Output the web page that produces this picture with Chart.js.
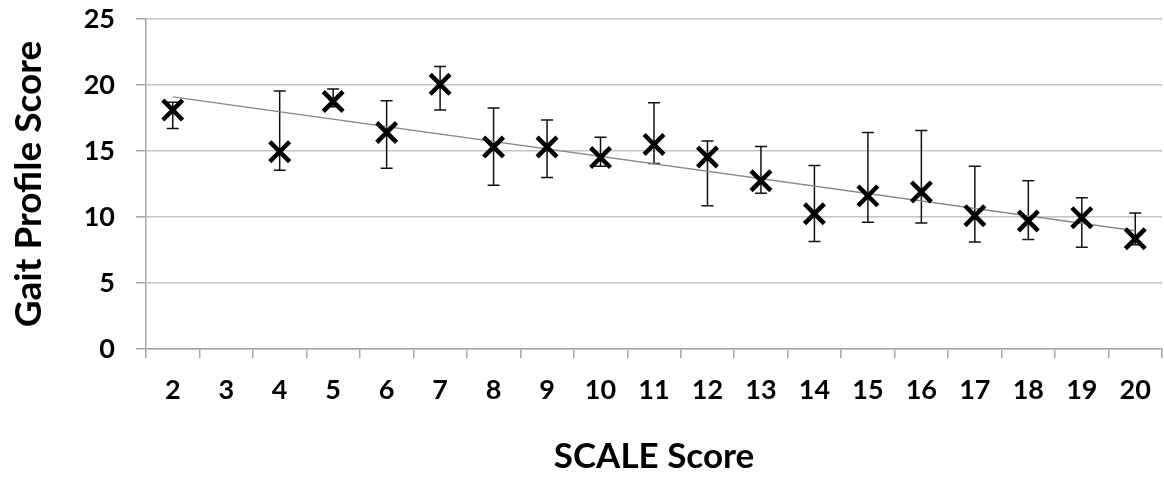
<!DOCTYPE html>
<html>
<head>
<meta charset="utf-8">
<script src="https://cdn.jsdelivr.net/npm/chart.js@4.4.1/dist/chart.umd.min.js"></script>
<style>
  body { margin: 0; background: #fff; }
  #wrap { width: 1164px; height: 483px; }
</style>
</head>
<body>
<div id="wrap"><canvas id="gait-chart" width="1164" height="483"></canvas></div>
<script>
// categories on the x axis (SCALE score)
const scaleScores = ['2', '3', '4', '5', '6', '7', '8', '9', '10', '11', '12', '13', '14', '15', '16', '17', '18', '19', '20'];
// mean gait profile score, no data for 3
const gpsMean  = [18.1, null, 14.95, 18.75, 16.4, 20.05, 15.3, 15.3, 14.5, 15.5, 14.55, 12.75, 10.25, 11.6, 11.9, 10.1, 9.7, 9.95, 8.35];
// top and bottom of the error bars
const gpsUpper = [18.7, null, 19.55, 19.7, 18.8, 21.4, 18.25, 17.35, 16.05, 18.65, 15.75, 15.35, 13.9, 16.4, 16.55, 13.85, 12.75, 11.45, 10.3];
const gpsLower = [16.7, null, 13.55, 18.35, 13.7, 18.1, 12.4, 13.0, 13.85, 14.05, 10.85, 11.8, 8.15, 9.6, 9.55, 8.1, 8.3, 7.7, 7.9];
const trendLine = [19.1, null, null, null, null, null, null, null, null, null, null, null, null, null, null, null, null, null, 8.95];
const yTicks = [0, 5, 10, 15, 20, 25];

Chart.defaults.font.family = 'Lato';
Chart.defaults.font.weight = 'bold';
Chart.defaults.color = '#000';

// draws the error bars with little caps
const errorBars = {
    id: 'errorBars',
    beforeDatasetsDraw(chart) {
        const ctx = chart.ctx;
        const x = chart.scales.x, y = chart.scales.y;
        ctx.save();
        ctx.strokeStyle = '#111';
        ctx.lineWidth = 1.5;
        for (let i = 0; i < scaleScores.length; i++) {
            if (gpsUpper[i] == null) continue;
            const px = x.getPixelForValue(i);
            const top = y.getPixelForValue(gpsUpper[i]);
            const bot = y.getPixelForValue(gpsLower[i]);
            ctx.beginPath();
            ctx.moveTo(px, top); ctx.lineTo(px, bot);
            ctx.moveTo(px - 6, top); ctx.lineTo(px + 6, top);
            ctx.moveTo(px - 6, bot); ctx.lineTo(px + 6, bot);
            ctx.stroke();
        }
        ctx.restore();
    }
};

const data = {
    labels: scaleScores,
    datasets: [
        {
            label: 'Trend',
            data: trendLine,
            spanGaps: true,
            borderColor: '#888',
            borderWidth: 1.5,
            pointRadius: 0,
            order: 2
        },
        {
            label: 'GPS',
            data: gpsMean,
            showLine: false,
            pointStyle: 'crossRot',
            pointRadius: 14,
            pointBorderWidth: 4.5,
            pointBorderColor: '#000',
            pointBackgroundColor: '#000',
            order: 1
        }
    ]
};

const config = {
    type: 'line',
    data: data,
    plugins: [errorBars],
    options: {
        responsive: false,
        animation: false,
        devicePixelRatio: 1,
        layout: { autoPadding: false, padding: { left: 0, right: 2, top: 19, bottom: 0 } },
        plugins: { legend: { display: false }, tooltip: { enabled: false } },
        scales: {
            x: {
                offset: true,
                grid: { offset: true, drawOnChartArea: false, drawTicks: true, tickLength: 9, color: '#a6a6a6', lineWidth: 1.5 },
                border: { color: '#a6a6a6', width: 1.5 },
                ticks: { font: { size: 27, weight: 'bold' }, color: '#000', padding: 16, maxRotation: 0, autoSkip: false },
                title: { display: true, text: 'SCALE Score', font: { size: 35, weight: 'bold' }, color: '#000', padding: { top: 0, bottom: 5 } },
                afterFit(scale) { scale.height = 134; scale.paddingLeft = 0; scale.paddingRight = 0; }
            },
            y: {
                min: 0, max: 25,
                afterBuildTicks(scale) { scale.ticks = yTicks.map(v => ({ value: v })); },
                grid: { color: '#c4c4c4', lineWidth: 1.5, tickLength: 10, tickColor: '#a6a6a6' },
                border: { color: '#a6a6a6', width: 1.5 },
                ticks: { font: { size: 27, weight: 'bold' }, color: '#000', padding: 21 },
                title: { display: true, text: 'Gait Profile Score', font: { size: 37, weight: 'bold' }, color: '#000', padding: { top: 7, bottom: 0 } },
                afterFit(scale) { scale.width = 146; scale.paddingTop = 0; scale.paddingBottom = 0; }
            }
        }
    }
};

new Chart(document.getElementById('gait-chart').getContext('2d'), config);
</script>
</body>
</html>
